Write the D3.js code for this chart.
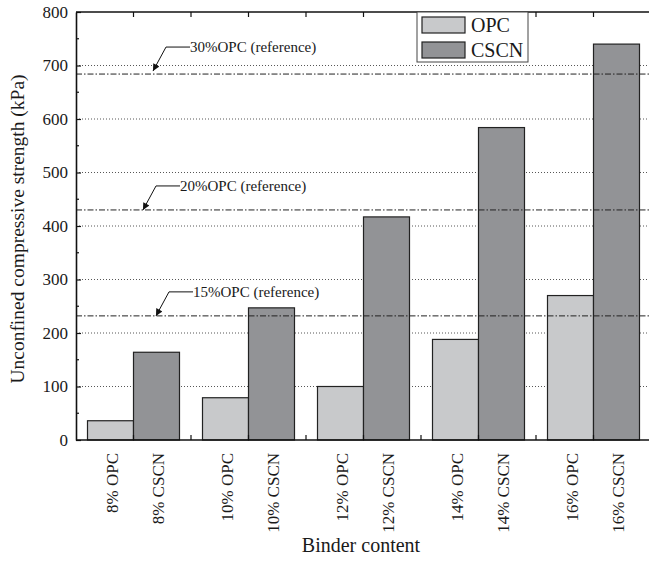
<!DOCTYPE html>
<html lang="en">
  <head>
    <meta charset="UTF-8" />
    <title>Binder content vs UCS</title>
    <script src="https://d3js.org/d3.v7.min.js"></script>
    <style>
      body { margin: 0; background: #fff; }
      svg text { font-family: 'Liberation Serif', 'Times New Roman', serif; fill: #1a1a1a; }
    </style>
  </head>
  <body></body>
  <script type="text/javascript">
    // data
    var groups = ['8%', '10%', '12%', '14%', '16%'];
    var seriesNames = ['OPC', 'CSCN'];
    var opcValues = [36, 79, 100, 188, 270];
    var cscnValues = [164, 247, 417, 584, 740];
    var refLabels = ['30%OPC (reference)', '20%OPC (reference)', '15%OPC (reference)'];
    var refValues = [684, 430, 232];
    var yTickValues = [0, 100, 200, 300, 400, 500, 600, 700, 800];

    var width = 649,
      height = 562;
    var m = { left: 76, top: 12, right: 651, bottom: 440 };
    var colors = { OPC: '#c8c9cb', CSCN: '#929396' };
    // x offsets of the annotation arrow tips
    var tipX = [153, 143, 156];
    var tipLift = [3, 0, 0];

    var svg = d3.select('body').append('svg')
      .attr('width', width)
      .attr('height', height);

    var x = d3.scaleBand().domain(groups).range([m.left, m.right])
      .paddingInner(0.2).paddingOuter(0.1);
    var xs = d3.scaleBand().domain(seriesNames).range([0, x.bandwidth()]);
    var y = d3.scaleLinear().domain([0, 800]).range([m.bottom, m.top]);

    var rows = [];
    groups.forEach((g, i) => {
      rows.push({ g: g, s: 'OPC', v: opcValues[i] });
      rows.push({ g: g, s: 'CSCN', v: cscnValues[i] });
    });

    // dotted grid
    svg.append('g').selectAll('line')
      .data(yTickValues.filter(d => d > 0 && d < 800))
      .join('line')
      .attr('x1', m.left).attr('x2', m.right)
      .attr('y1', d => y(d)).attr('y2', d => y(d))
      .attr('stroke', '#444').attr('stroke-width', 0.9)
      .attr('stroke-dasharray', '1,2');

    // bars
    svg.append('g').selectAll('rect')
      .data(rows)
      .join('rect')
      .attr('x', d => x(d.g) + xs(d.s))
      .attr('y', d => y(d.v))
      .attr('width', xs.bandwidth())
      .attr('height', d => y(0) - y(d.v))
      .attr('fill', d => colors[d.s])
      .attr('stroke', '#222')
      .attr('stroke-width', 1.2);

    // reference lines (dash-dot, drawn over bars)
    svg.append('g').selectAll('line')
      .data(refValues)
      .join('line')
      .attr('x1', m.left).attr('x2', m.right)
      .attr('y1', d => y(d)).attr('y2', d => y(d))
      .attr('stroke', '#222').attr('stroke-width', 1)
      .attr('stroke-dasharray', '6,2,1.5,2');

    // arrow marker
    svg.append('defs').append('marker')
      .attr('id', 'arr')
      .attr('viewBox', '0 0 10 10')
      .attr('refX', 10).attr('refY', 5)
      .attr('markerWidth', 9).attr('markerHeight', 7)
      .attr('markerUnits', 'userSpaceOnUse')
      .attr('orient', 'auto')
      .append('path')
      .attr('d', 'M0,0L10,5L0,10z')
      .attr('fill', '#111');

    var ann = svg.append('g');
    refValues.forEach((v, i) => {
      var tx = tipX[i], ty = y(v) - tipLift[i];
      var ex = tx + 13, ey = ty - 24;
      ann.append('path')
        .attr('d', d3.line()([[ex + 24, ey], [ex, ey], [tx, ty]]))
        .attr('fill', 'none')
        .attr('stroke', '#111')
        .attr('stroke-width', 1)
        .attr('marker-end', 'url(#arr)');
      ann.append('text')
        .attr('x', ex + 24).attr('y', ey)
        .attr('dy', '0.35em')
        .style('font-size', '15px')
        .text(refLabels[i]);
    });

    // y axis (ticks inward)
    var yAxis = d3.axisLeft(y).tickValues(yTickValues)
      .tickSizeInner(-5).tickSizeOuter(0).tickPadding(8);
    var ya = svg.append('g')
      .attr('transform', `translate(${m.left},0)`)
      .call(yAxis);
    ya.select('.domain').attr('stroke', '#111').attr('stroke-width', 1.6);
    ya.selectAll('.tick line').attr('stroke', '#111').attr('stroke-width', 1.2);
    ya.selectAll('.tick text')
      .style('font-size', '17px')
      .style('font-family', "'Liberation Serif', serif")
      .attr('fill', '#1a1a1a');
    // minor ticks
    svg.append('g').selectAll('line')
      .data(d3.range(50, 800, 100))
      .join('line')
      .attr('x1', m.left).attr('x2', m.left + 3)
      .attr('y1', d => y(d)).attr('y2', d => y(d))
      .attr('stroke', '#111').attr('stroke-width', 1.2);

    // frame: bottom and top lines
    var frame = svg.append('g').attr('stroke', '#111').attr('stroke-width', 1.6);
    frame.append('line').attr('x1', m.left).attr('x2', m.right)
      .attr('y1', m.bottom).attr('y2', m.bottom);
    frame.append('line').attr('x1', m.left).attr('x2', m.right)
      .attr('y1', m.top).attr('y2', m.top);

    // x ticks at group centres and boundaries (bottom and top, inward)
    var xTickPos = [];
    groups.forEach((g, i) => {
      xTickPos.push(x(g) + x.bandwidth() / 2);
      if (i > 0) xTickPos.push(x(g) - (x.step() - x.bandwidth()) / 2);
    });
    svg.append('g').selectAll('line')
      .data(xTickPos)
      .join('line')
      .attr('x1', d => d).attr('x2', d => d)
      .attr('y1', m.bottom).attr('y2', m.bottom - 5)
      .attr('stroke', '#111').attr('stroke-width', 1.2);
    svg.append('g').selectAll('line')
      .data(xTickPos)
      .join('line')
      .attr('x1', d => d).attr('x2', d => d)
      .attr('y1', m.top).attr('y2', m.top + 5)
      .attr('stroke', '#111').attr('stroke-width', 1.2);

    // rotated category labels
    svg.append('g').selectAll('text')
      .data(rows)
      .join('text')
      .attr('transform', d => `translate(${x(d.g) + xs(d.s) + xs.bandwidth() / 2 + 2},453) rotate(-90)`)
      .attr('text-anchor', 'end')
      .attr('dy', '0.35em')
      .style('font-size', '17px')
      .text(d => `${d.g} ${d.s}`);

    // axis titles
    svg.append('text')
      .attr('x', 361).attr('y', 552)
      .attr('text-anchor', 'middle')
      .style('font-size', '20px')
      .text('Binder content');
    svg.append('text')
      .attr('transform', 'translate(24,229) rotate(-90)')
      .attr('text-anchor', 'middle')
      .style('font-size', '19.5px')
      .text('Unconfined compressive strength (kPa)');

    // legend
    var lg = svg.append('g');
    lg.append('rect')
      .attr('x', 417).attr('y', m.top)
      .attr('width', 111).attr('height', 50)
      .attr('fill', '#fff')
      .attr('stroke', '#444').attr('stroke-width', 1);
    seriesNames.forEach((s, i) => {
      lg.append('rect')
        .attr('x', 422).attr('y', 17 + i * 25)
        .attr('width', 43).attr('height', 16)
        .attr('fill', colors[s])
        .attr('stroke', '#222').attr('stroke-width', 1.2);
      lg.append('text')
        .attr('x', 471).attr('y', 32 + i * 25)
        .style('font-size', '20px')
        .text(s);
    });
  </script>
</html>
